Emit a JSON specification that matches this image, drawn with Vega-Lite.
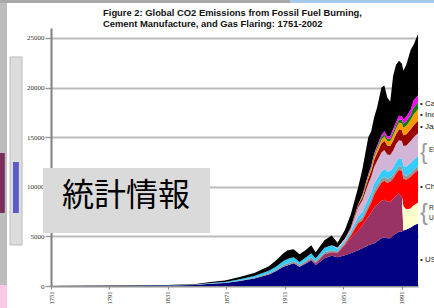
{
  "$schema": "https://vega.github.io/schema/vega-lite/v6.json",
  "width": 367,
  "height": 258,
  "autosize": {"type": "none"},
  "padding": {"left": 51, "top": 28, "right": 16, "bottom": 22},
  "background": "white",
  "config": {
    "view": {"stroke": null},
    "font": "Liberation Sans",
    "axisY": {"labelFont": "Liberation Serif", "labelFontSize": 7, "labelColor": "#333", "tickSize": 6, "tickColor": "#999", "tickWidth": 1.5, "domainColor": "#808080", "domainWidth": 2, "grid": true, "gridColor": "#BBBBBB", "gridWidth": 2, "labelPadding": 1, "title": null},
    "axisX": {"labelFont": "Liberation Serif", "labelFontSize": 6.5, "labelColor": "#222", "tickSize": 3, "tickColor": "#888", "domainColor": "#909090", "domainWidth": 1.5, "grid": false, "labelPadding": 2, "title": null}
  },
  "datasets": {
    "co2": [
      {"year":1751,"s":"US","v":5},{"year":1751,"s":"EU1","v":1},{"year":1751,"s":"EU2","v":1},{"year":1751,"s":"Other","v":3},
      {"year":1800,"s":"US","v":22},{"year":1800,"s":"EU1","v":3},{"year":1800,"s":"EU2","v":5},{"year":1800,"s":"Other","v":10},
      {"year":1830,"s":"US","v":55},{"year":1830,"s":"EU1","v":8},{"year":1830,"s":"EU2","v":12},{"year":1830,"s":"Other","v":25},
      {"year":1850,"s":"US","v":110},{"year":1850,"s":"EU1","v":15},{"year":1850,"s":"EU2","v":25},{"year":1850,"s":"Other","v":50},
      {"year":1860,"s":"US","v":220},{"year":1860,"s":"EU1","v":30},{"year":1860,"s":"EU2","v":50},{"year":1860,"s":"Other","v":100},
      {"year":1870,"s":"US","v":300},{"year":1870,"s":"EU1","v":40},{"year":1870,"s":"EU2","v":70},{"year":1870,"s":"Other","v":140},
      {"year":1880,"s":"US","v":500},{"year":1880,"s":"EU1","v":60},{"year":1880,"s":"EU2","v":110},{"year":1880,"s":"Other","v":230},
      {"year":1890,"s":"US","v":750},{"year":1890,"s":"EU1","v":90},{"year":1890,"s":"EU2","v":160},{"year":1890,"s":"Other","v":300},
      {"year":1900,"s":"US","v":1150},{"year":1900,"s":"EU1","v":130},{"year":1900,"s":"EU2","v":250},{"year":1900,"s":"Other","v":470},
      {"year":1905,"s":"US","v":1500},{"year":1905,"s":"EU1","v":150},{"year":1905,"s":"EU2","v":320},{"year":1905,"s":"Other","v":630},
      {"year":1910,"s":"US","v":1950},{"year":1910,"s":"EU1","v":180},{"year":1910,"s":"EU2","v":400},{"year":1910,"s":"Other","v":770},
      {"year":1913,"s":"US","v":2100},{"year":1913,"s":"EU1","v":200},{"year":1913,"s":"EU2","v":450},{"year":1913,"s":"Other","v":850},
      {"year":1917,"s":"US","v":2300},{"year":1917,"s":"EU1","v":200},{"year":1917,"s":"EU2","v":400},{"year":1917,"s":"Other","v":800},
      {"year":1921,"s":"US","v":1950},{"year":1921,"s":"EU1","v":180},{"year":1921,"s":"EU2","v":300},{"year":1921,"s":"Other","v":770},
      {"year":1925,"s":"US","v":2250},{"year":1925,"s":"USSR","v":50},{"year":1925,"s":"EU1","v":200},{"year":1925,"s":"EU2","v":350},{"year":1925,"s":"Other","v":750},
      {"year":1929,"s":"US","v":2600},{"year":1929,"s":"USSR","v":100},{"year":1929,"s":"EU1","v":200},{"year":1929,"s":"EU2","v":400},{"year":1929,"s":"Other","v":800},
      {"year":1932,"s":"US","v":2100},{"year":1932,"s":"USSR","v":200},{"year":1932,"s":"EU1","v":180},{"year":1932,"s":"EU2","v":300},{"year":1932,"s":"Other","v":620},
      {"year":1938,"s":"US","v":2800},{"year":1938,"s":"USSR","v":400},{"year":1938,"s":"EU1","v":200},{"year":1938,"s":"EU2","v":450},{"year":1938,"s":"Other","v":750},
      {"year":1943,"s":"US","v":3050},{"year":1943,"s":"USSR","v":350},{"year":1943,"s":"EU1","v":200},{"year":1943,"s":"EU2","v":500},{"year":1943,"s":"Other","v":1000},
      {"year":1947,"s":"US","v":2900},{"year":1947,"s":"USSR","v":450},{"year":1947,"s":"EU1","v":150},{"year":1947,"s":"EU2","v":250},{"year":1947,"s":"EU3","v":100},{"year":1947,"s":"Other","v":500},
      {"year":1952,"s":"US","v":3100},{"year":1952,"s":"USSR","v":1000},{"year":1952,"s":"China","v":100},{"year":1952,"s":"EU1","v":150},{"year":1952,"s":"EU2","v":200},{"year":1952,"s":"EU3","v":200},{"year":1952,"s":"Other","v":900},
      {"year":1956,"s":"US","v":3300},{"year":1956,"s":"USSR","v":1500},{"year":1956,"s":"China","v":250},{"year":1956,"s":"EU1","v":200},{"year":1956,"s":"EU2","v":250},{"year":1956,"s":"EU3","v":300},{"year":1956,"s":"Japan","v":100},{"year":1956,"s":"Other","v":1300},
      {"year":1961,"s":"US","v":3600},{"year":1961,"s":"USSR","v":2000},{"year":1961,"s":"China","v":700},{"year":1961,"s":"EU1","v":300},{"year":1961,"s":"EU2","v":400},{"year":1961,"s":"EU3","v":900},{"year":1961,"s":"Japan","v":200},{"year":1961,"s":"India","v":100},{"year":1961,"s":"Other","v":1700},
      {"year":1964,"s":"US","v":3800},{"year":1964,"s":"USSR","v":2300},{"year":1964,"s":"China","v":500},{"year":1964,"s":"EU1","v":350},{"year":1964,"s":"EU2","v":500},{"year":1964,"s":"EU3","v":1200},{"year":1964,"s":"Japan","v":300},{"year":1964,"s":"India","v":150},{"year":1964,"s":"Green","v":100},{"year":1964,"s":"Other","v":2600},
      {"year":1968,"s":"US","v":4100},{"year":1968,"s":"USSR","v":2900},{"year":1968,"s":"China","v":800},{"year":1968,"s":"EU1","v":400},{"year":1968,"s":"EU2","v":600},{"year":1968,"s":"EU3","v":1500},{"year":1968,"s":"Japan","v":500},{"year":1968,"s":"India","v":200},{"year":1968,"s":"Green","v":150},{"year":1968,"s":"Canada","v":100},{"year":1968,"s":"Other","v":3750},
      {"year":1970,"s":"US","v":4200},{"year":1970,"s":"USSR","v":3200},{"year":1970,"s":"China","v":1000},{"year":1970,"s":"EU1","v":400},{"year":1970,"s":"EU2","v":600},{"year":1970,"s":"EU3","v":1600},{"year":1970,"s":"Japan","v":600},{"year":1970,"s":"India","v":250},{"year":1970,"s":"Green","v":150},{"year":1970,"s":"Canada","v":100},{"year":1970,"s":"Other","v":3500},
      {"year":1972,"s":"US","v":4300},{"year":1972,"s":"USSR","v":3600},{"year":1972,"s":"China","v":1300},{"year":1972,"s":"EU1","v":400},{"year":1972,"s":"EU2","v":700},{"year":1972,"s":"EU3","v":1700},{"year":1972,"s":"Japan","v":700},{"year":1972,"s":"India","v":300},{"year":1972,"s":"Green","v":200},{"year":1972,"s":"Canada","v":150},{"year":1972,"s":"Other","v":3650},
      {"year":1974,"s":"US","v":4500},{"year":1974,"s":"USSR","v":3700},{"year":1974,"s":"China","v":1500},{"year":1974,"s":"EU1","v":400},{"year":1974,"s":"EU2","v":700},{"year":1974,"s":"EU3","v":1800},{"year":1974,"s":"Japan","v":800},{"year":1974,"s":"India","v":350},{"year":1974,"s":"Green","v":200},{"year":1974,"s":"Canada","v":150},{"year":1974,"s":"Other","v":3900},
      {"year":1977,"s":"US","v":4800},{"year":1977,"s":"USSR","v":3800},{"year":1977,"s":"China","v":1800},{"year":1977,"s":"EU1","v":400},{"year":1977,"s":"EU2","v":750},{"year":1977,"s":"EU3","v":1900},{"year":1977,"s":"Japan","v":900},{"year":1977,"s":"India","v":400},{"year":1977,"s":"Green","v":250},{"year":1977,"s":"Canada","v":200},{"year":1977,"s":"Other","v":4800},
      {"year":1979,"s":"US","v":4900},{"year":1979,"s":"USSR","v":3800},{"year":1979,"s":"China","v":1900},{"year":1979,"s":"EU1","v":400},{"year":1979,"s":"EU2","v":800},{"year":1979,"s":"EU3","v":1900},{"year":1979,"s":"Japan","v":950},{"year":1979,"s":"India","v":450},{"year":1979,"s":"Green","v":250},{"year":1979,"s":"Canada","v":250},{"year":1979,"s":"Other","v":4600},
      {"year":1981,"s":"US","v":4800},{"year":1981,"s":"USSR","v":3700},{"year":1981,"s":"China","v":1900},{"year":1981,"s":"EU1","v":400},{"year":1981,"s":"EU2","v":750},{"year":1981,"s":"EU3","v":1700},{"year":1981,"s":"Japan","v":900},{"year":1981,"s":"India","v":450},{"year":1981,"s":"Green","v":250},{"year":1981,"s":"Canada","v":250},{"year":1981,"s":"Other","v":3900},
      {"year":1983,"s":"US","v":4800},{"year":1983,"s":"USSR","v":3700},{"year":1983,"s":"China","v":2000},{"year":1983,"s":"EU1","v":400},{"year":1983,"s":"EU2","v":700},{"year":1983,"s":"EU3","v":1600},{"year":1983,"s":"Japan","v":900},{"year":1983,"s":"India","v":500},{"year":1983,"s":"Green","v":250},{"year":1983,"s":"Canada","v":250},{"year":1983,"s":"Other","v":3500},
      {"year":1985,"s":"US","v":5100},{"year":1985,"s":"USSR","v":3700},{"year":1985,"s":"China","v":2000},{"year":1985,"s":"EU1","v":400},{"year":1985,"s":"EU2","v":750},{"year":1985,"s":"EU3","v":1700},{"year":1985,"s":"Japan","v":1000},{"year":1985,"s":"India","v":550},{"year":1985,"s":"Green","v":300},{"year":1985,"s":"Canada","v":300},{"year":1985,"s":"Other","v":5400},
      {"year":1987,"s":"US","v":5300},{"year":1987,"s":"USSR","v":3800},{"year":1987,"s":"China","v":2200},{"year":1987,"s":"EU1","v":400},{"year":1987,"s":"EU2","v":800},{"year":1987,"s":"EU3","v":1800},{"year":1987,"s":"Japan","v":1000},{"year":1987,"s":"India","v":600},{"year":1987,"s":"Green","v":300},{"year":1987,"s":"Canada","v":300},{"year":1987,"s":"Other","v":5800},
      {"year":1989,"s":"US","v":5500},{"year":1989,"s":"USSR","v":3800},{"year":1989,"s":"China","v":2400},{"year":1989,"s":"EU1","v":400},{"year":1989,"s":"EU2","v":800},{"year":1989,"s":"EU3","v":1800},{"year":1989,"s":"Japan","v":1100},{"year":1989,"s":"India","v":650},{"year":1989,"s":"Green","v":350},{"year":1989,"s":"Canada","v":350},{"year":1989,"s":"Other","v":5550},
      {"year":1991,"s":"US","v":5500},{"year":1991,"s":"USSR","v":3500},{"year":1991,"s":"China","v":2600},{"year":1991,"s":"EU1","v":400},{"year":1991,"s":"EU2","v":800},{"year":1991,"s":"EU3","v":1800},{"year":1991,"s":"Japan","v":1100},{"year":1991,"s":"India","v":700},{"year":1991,"s":"Green","v":350},{"year":1991,"s":"Canada","v":350},{"year":1991,"s":"Other","v":5300},
      {"year":1992,"s":"US","v":5600},{"year":1992,"s":"FSU","v":2400},{"year":1992,"s":"China","v":2800},{"year":1992,"s":"EU1","v":400},{"year":1992,"s":"EU2","v":900},{"year":1992,"s":"EU3","v":2000},{"year":1992,"s":"Japan","v":1100},{"year":1992,"s":"India","v":750},{"year":1992,"s":"Green","v":400},{"year":1992,"s":"Canada","v":400},{"year":1992,"s":"Other","v":4950},
      {"year":1994,"s":"US","v":5700},{"year":1994,"s":"FSU","v":2000},{"year":1994,"s":"China","v":3000},{"year":1994,"s":"EU1","v":400},{"year":1994,"s":"EU2","v":950},{"year":1994,"s":"EU3","v":2100},{"year":1994,"s":"Japan","v":1150},{"year":1994,"s":"India","v":850},{"year":1994,"s":"Green","v":450},{"year":1994,"s":"Canada","v":450},{"year":1994,"s":"Other","v":5250},
      {"year":1997,"s":"US","v":5900},{"year":1997,"s":"FSU","v":1900},{"year":1997,"s":"China","v":3200},{"year":1997,"s":"EU1","v":400},{"year":1997,"s":"EU2","v":1000},{"year":1997,"s":"EU3","v":2200},{"year":1997,"s":"Japan","v":1200},{"year":1997,"s":"India","v":950},{"year":1997,"s":"Green","v":500},{"year":1997,"s":"Canada","v":500},{"year":1997,"s":"Other","v":6050},
      {"year":1999,"s":"US","v":6100},{"year":1999,"s":"FSU","v":2000},{"year":1999,"s":"China","v":3200},{"year":1999,"s":"EU1","v":400},{"year":1999,"s":"EU2","v":1000},{"year":1999,"s":"EU3","v":2300},{"year":1999,"s":"Japan","v":1200},{"year":1999,"s":"India","v":1100},{"year":1999,"s":"Green","v":700},{"year":1999,"s":"Canada","v":700},{"year":1999,"s":"Other","v":5600},
      {"year":2002,"s":"US","v":6300},{"year":2002,"s":"FSU","v":2100},{"year":2002,"s":"China","v":3300},{"year":2002,"s":"EU1","v":400},{"year":2002,"s":"EU2","v":1000},{"year":2002,"s":"EU3","v":2300},{"year":2002,"s":"Japan","v":1250},{"year":2002,"s":"India","v":1150},{"year":2002,"s":"Green","v":700},{"year":2002,"s":"Canada","v":700},{"year":2002,"s":"Other","v":6200}
    ],
    "labels": [
      {"label": "• Canada", "v": 18350},
      {"label": "• India", "v": 17240},
      {"label": "• Japan", "v": 16030},
      {"label": "• China", "v": 9980},
      {"label": "• US", "v": 2620}
    ],
    "groups": [
      {"label": "EU", "v": 13700},
      {"label": "Russia", "v": 7860},
      {"label": "Ukraine", "v": 6850}
    ]
  },
  "layer": [
    {
      "data": {"name": "co2"},
      "transform": [
        {"calculate": "indexof(['US','USSR','FSU','China','EU1','EU2','EU3','Japan','India','Green','Canada','Other'], datum.s)", "as": "rank"}
      ],
      "mark": {"type": "area", "interpolate": "linear"},
      "encoding": {
        "x": {"field": "year", "type": "quantitative", "scale": {"domain": [1751, 2002], "nice": false, "zero": false},
              "axis": {"values": [1751,1761,1771,1781,1791,1801,1811,1821,1831,1841,1851,1861,1871,1881,1891,1901,1911,1921,1931,1941,1951,1961,1971,1981,1991,2001], "format": "d", "labelAngle": 270}},
        "y": {"field": "v", "type": "quantitative", "stack": "zero", "scale": {"domain": [0, 26000], "nice": false},
              "axis": {"values": [0, 5000, 10000, 15000, 20000, 25000], "format": "d"}},
        "color": {"field": "s", "type": "nominal",
                  "scale": {"domain": ["US","USSR","FSU","China","EU1","EU2","EU3","Japan","India","Green","Canada","Other"],
                            "range": ["#000080","#993366","#FFFFCC","#FF0000","#969696","#33CCFF","#D2B4D7","#990000","#FF9900","#008000","#FF00FF","#000000"]},
                  "legend": null},
        "order": {"field": "rank", "type": "quantitative", "sort": "ascending"}
      }
    },
    {
      "data": {"name": "labels"},
      "mark": {"type": "text", "align": "left", "baseline": "middle", "dx": 2, "fontSize": 8, "font": "Liberation Sans", "color": "#222"},
      "encoding": {
        "x": {"datum": 2002, "type": "quantitative"},
        "y": {"field": "v", "type": "quantitative"},
        "text": {"field": "label"}
      }
    },
    {
      "data": {"name": "groups"},
      "mark": {"type": "text", "align": "left", "baseline": "middle", "dx": 11, "fontSize": 6.5, "font": "Liberation Sans", "color": "#222"},
      "encoding": {
        "x": {"datum": 2002, "type": "quantitative"},
        "y": {"field": "v", "type": "quantitative"},
        "text": {"field": "label"}
      }
    },
    {
      "data": {"values": [{"b": "{"}]},
      "mark": {"type": "text", "align": "left", "baseline": "middle", "dx": 2, "fontSize": 22, "font": "Liberation Sans", "color": "#999"},
      "encoding": {"x": {"datum": 2002, "type": "quantitative"}, "y": {"datum": 13500, "type": "quantitative"}, "text": {"field": "b"}}
    },
    {
      "data": {"values": [{"b": "{"}]},
      "mark": {"type": "text", "align": "left", "baseline": "middle", "dx": 2, "fontSize": 24, "font": "Liberation Sans", "color": "#999"},
      "encoding": {"x": {"datum": 2002, "type": "quantitative"}, "y": {"datum": 7360, "type": "quantitative"}, "text": {"field": "b"}}
    },
    {
      "data": {"values": [{"t": "Figure 2: Global CO2 Emissions from Fossil Fuel Burning,"}]},
      "mark": {"type": "text", "align": "left", "baseline": "middle", "fontSize": 9.4, "fontWeight": "bold", "font": "Liberation Sans", "color": "#111"},
      "encoding": {"x": {"datum": 1786.6, "type": "quantitative"}, "y": {"datum": 27542, "type": "quantitative"}, "text": {"field": "t"}}
    },
    {
      "data": {"values": [{"t": "Cement Manufacture, and Gas Flaring: 1751-2002"}]},
      "mark": {"type": "text", "align": "left", "baseline": "middle", "fontSize": 9.4, "fontWeight": "bold", "font": "Liberation Sans", "color": "#111"},
      "encoding": {"x": {"datum": 1786.6, "type": "quantitative"}, "y": {"datum": 26403, "type": "quantitative"}, "text": {"field": "t"}}
    },
    {
      "data": {"values": [{"t": "統計情報"}]},
      "mark": {"type": "rect", "color": "#DADADA"},
      "encoding": {
        "x": {"datum": 1745.5, "type": "quantitative"}, "x2": {"datum": 1859.8},
        "y": {"datum": 11891, "type": "quantitative"}, "y2": {"datum": 5341}
      }
    },
    {
      "data": {"values": [{"t": "統計情報"}]},
      "mark": {"type": "text", "align": "center", "baseline": "middle", "fontSize": 32, "font": "Noto Sans CJK JP", "color": "#000"},
      "encoding": {
        "x": {"datum": 1802.3, "type": "quantitative"},
        "y": {"datum": 9070, "type": "quantitative"},
        "text": {"field": "t"}
      }
    },
    {
      "data": {"values": [{"k": "strip"}]},
      "mark": {"type": "rect", "color": "#BDBDBD"},
      "encoding": {"x": {"datum": 1716, "type": "quantitative"}, "x2": {"datum": 1720.9}, "y": {"datum": 28900, "type": "quantitative"}, "y2": {"datum": -2300}}
    },
    {
      "data": {"values": [{"k": "pink"}]},
      "mark": {"type": "rect", "color": "#FFC8E6"},
      "encoding": {"x": {"datum": 1716, "type": "quantitative"}, "x2": {"datum": 1720.9}, "y": {"datum": 101, "type": "quantitative"}, "y2": {"datum": -2300}}
    },
    {
      "data": {"values": [{"k": "maroon"}]},
      "mark": {"type": "rect", "color": "#7A2D5A"},
      "encoding": {"x": {"datum": 1716, "type": "quantitative"}, "x2": {"datum": 1719.4}, "y": {"datum": 13400, "type": "quantitative"}, "y2": {"datum": 7360}}
    },
    {
      "data": {"values": [{"k": "thumb"}]},
      "mark": {"type": "rect", "color": "#DCDCDC", "stroke": "#BBBBBB", "strokeWidth": 1},
      "encoding": {"x": {"datum": 1723, "type": "quantitative"}, "x2": {"datum": 1731.2}, "y": {"datum": 23076, "type": "quantitative"}, "y2": {"datum": 4132}}
    },
    {
      "data": {"values": [{"k": "bar"}]},
      "mark": {"type": "rect", "color": "#5A5AC8"},
      "encoding": {"x": {"datum": 1725, "type": "quantitative"}, "x2": {"datum": 1729}, "y": {"datum": 12496, "type": "quantitative"}, "y2": {"datum": 7357}}
    },
    {
      "data": {"values": [{"k": "top"}]},
      "mark": {"type": "rect", "color": "#A8A8A8"},
      "encoding": {"x": {"datum": 1716, "type": "quantitative"}, "x2": {"datum": 1914.5}, "y": {"datum": 28900, "type": "quantitative"}, "y2": {"datum": 28520}}
    },
    {
      "data": {"values": [{"k": "topblue"}]},
      "mark": {"type": "rect", "color": "#A6CBEA"},
      "encoding": {"x": {"datum": 1914.5, "type": "quantitative"}, "x2": {"datum": 2014}, "y": {"datum": 28900, "type": "quantitative"}, "y2": {"datum": 28520}}
    }
  ]
}
